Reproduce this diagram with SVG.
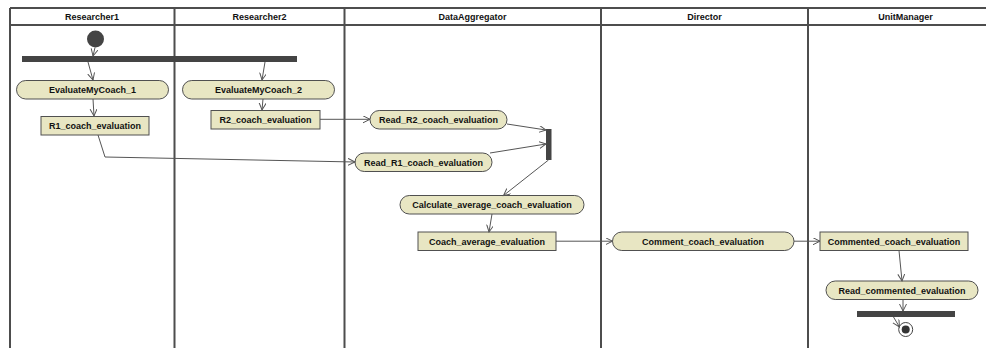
<svg xmlns="http://www.w3.org/2000/svg" width="986" height="348" viewBox="0 0 986 348">
<defs>
<style>
.lane{fill:none;stroke:#4d4d4d;stroke-width:2}
.hd{font-family:"Liberation Sans",Arial,sans-serif;font-size:9px;font-weight:bold;fill:#111;text-anchor:middle}
.act{fill:#e8e6c3;stroke:#505050;stroke-width:1}
.obj{fill:#e8e6c3;stroke:#505050;stroke-width:1}
.t{font-family:"Liberation Sans",Arial,sans-serif;font-size:9px;font-weight:bold;fill:#111;text-anchor:middle}
.bar{fill:#444}
.c{fill:none;stroke:#555;stroke-width:1;marker-end:url(#arr)}
</style>
<marker id="arr" markerWidth="10" markerHeight="10" refX="7" refY="3.5" orient="auto" markerUnits="userSpaceOnUse">
<path d="M0,0 L7,3.5 L0,7" fill="none" stroke="#555" stroke-width="1"/>
</marker>
</defs>
<rect width="986" height="348" fill="#fff"/>
<g id="lanes">
<line class="lane" x1="10" y1="8" x2="1002" y2="8"/>
<line class="lane" x1="10" y1="25" x2="1002" y2="25" stroke-width="1.2"/>
<line class="lane" x1="10" y1="8" x2="10" y2="348"/>
<line class="lane" x1="174.5" y1="8" x2="174.5" y2="348"/>
<line class="lane" x1="344.5" y1="8" x2="344.5" y2="348"/>
<line class="lane" x1="601" y1="8" x2="601" y2="348"/>
<line class="lane" x1="808" y1="8" x2="808" y2="348"/>
<text class="hd" x="92" y="19.5">Researcher1</text>
<text class="hd" x="259.5" y="19.5">Researcher2</text>
<text class="hd" x="472.5" y="19.5">DataAggregator</text>
<text class="hd" x="704.5" y="19.5">Director</text>
<text class="hd" x="905.5" y="19.5">UnitManager</text>
</g>
<g id="initial"><circle cx="95.5" cy="39" r="8.5" fill="#444"/></g>
<g id="fork1"><rect class="bar" x="22" y="56" width="275" height="6"/></g>
<g id="EvaluateMyCoach_1"><rect class="act" x="16.5" y="80.5" width="152" height="18.5" rx="9.25"/><text class="t" x="92.5" y="93">EvaluateMyCoach_1</text></g>
<g id="EvaluateMyCoach_2"><rect class="act" x="182.5" y="80.5" width="152" height="18.5" rx="9.25"/><text class="t" x="258.5" y="93">EvaluateMyCoach_2</text></g>
<g id="R1_coach_evaluation"><rect class="obj" x="41" y="116.5" width="108" height="18.5"/><text class="t" x="95" y="129">R1_coach_evaluation</text></g>
<g id="R2_coach_evaluation"><rect class="obj" x="211" y="110.5" width="109" height="18.5"/><text class="t" x="265.5" y="123">R2_coach_evaluation</text></g>
<g id="Read_R2_coach_evaluation"><rect class="act" x="370" y="110.5" width="137" height="18.5" rx="9.25"/><text class="t" x="438.5" y="123">Read_R2_coach_evaluation</text></g>
<g id="Read_R1_coach_evaluation"><rect class="act" x="355" y="153" width="137" height="18.5" rx="9.25"/><text class="t" x="423.5" y="165.5">Read_R1_coach_evaluation</text></g>
<g id="join1"><rect class="bar" x="546" y="129" width="5.5" height="31"/></g>
<g id="Calculate_average_coach_evaluation"><rect class="act" x="400" y="195.5" width="184" height="18.5" rx="9.25"/><text class="t" x="492" y="208">Calculate_average_coach_evaluation</text></g>
<g id="Coach_average_evaluation"><rect class="obj" x="418" y="232" width="138" height="18.5"/><text class="t" x="487" y="244.5">Coach_average_evaluation</text></g>
<g id="Comment_coach_evaluation"><rect class="act" x="612.5" y="232" width="181.5" height="18.5" rx="9.25"/><text class="t" x="703" y="244.5">Comment_coach_evaluation</text></g>
<g id="Commented_coach_evaluation"><rect class="obj" x="820" y="232" width="148" height="18.5"/><text class="t" x="894" y="244.5">Commented_coach_evaluation</text></g>
<g id="Read_commented_evaluation"><rect class="act" x="826" y="281" width="152" height="18.5" rx="9.25"/><text class="t" x="902" y="293.5">Read_commented_evaluation</text></g>
<g id="fork2"><rect class="bar" x="857" y="311" width="98" height="6"/></g>
<g id="final"><circle cx="905.7" cy="329.5" r="7" fill="#fff" stroke="#444" stroke-width="1"/><circle cx="905.7" cy="329.5" r="4" fill="#333"/></g>
<g id="connectors">
<path class="c" d="M95,47.5 L93,56"/>
<path class="c" d="M88,62 L93,80"/>
<path class="c" d="M265,62 L262,80"/>
<path class="c" d="M93,99 L94,116"/>
<path class="c" d="M263,99 L262,110"/>
<path class="c" d="M320,119.3 L370,119.3"/>
<path class="c" d="M98,135 L105,157 L355,162"/>
<path class="c" d="M507,124 L546,130"/>
<path class="c" d="M490,153 L546,144"/>
<path class="c" d="M548.5,160 L503.5,195.5"/>
<path class="c" d="M492,214 L489,232"/>
<path class="c" d="M556,241.2 L612.5,241.2"/>
<path class="c" d="M794,241.2 L820,241.2"/>
<path class="c" d="M899,250.5 L902,281"/>
<path class="c" d="M903,299.5 L903,311"/>
<path class="c" d="M893.5,317 L899.5,327"/>
</g>
</svg>
